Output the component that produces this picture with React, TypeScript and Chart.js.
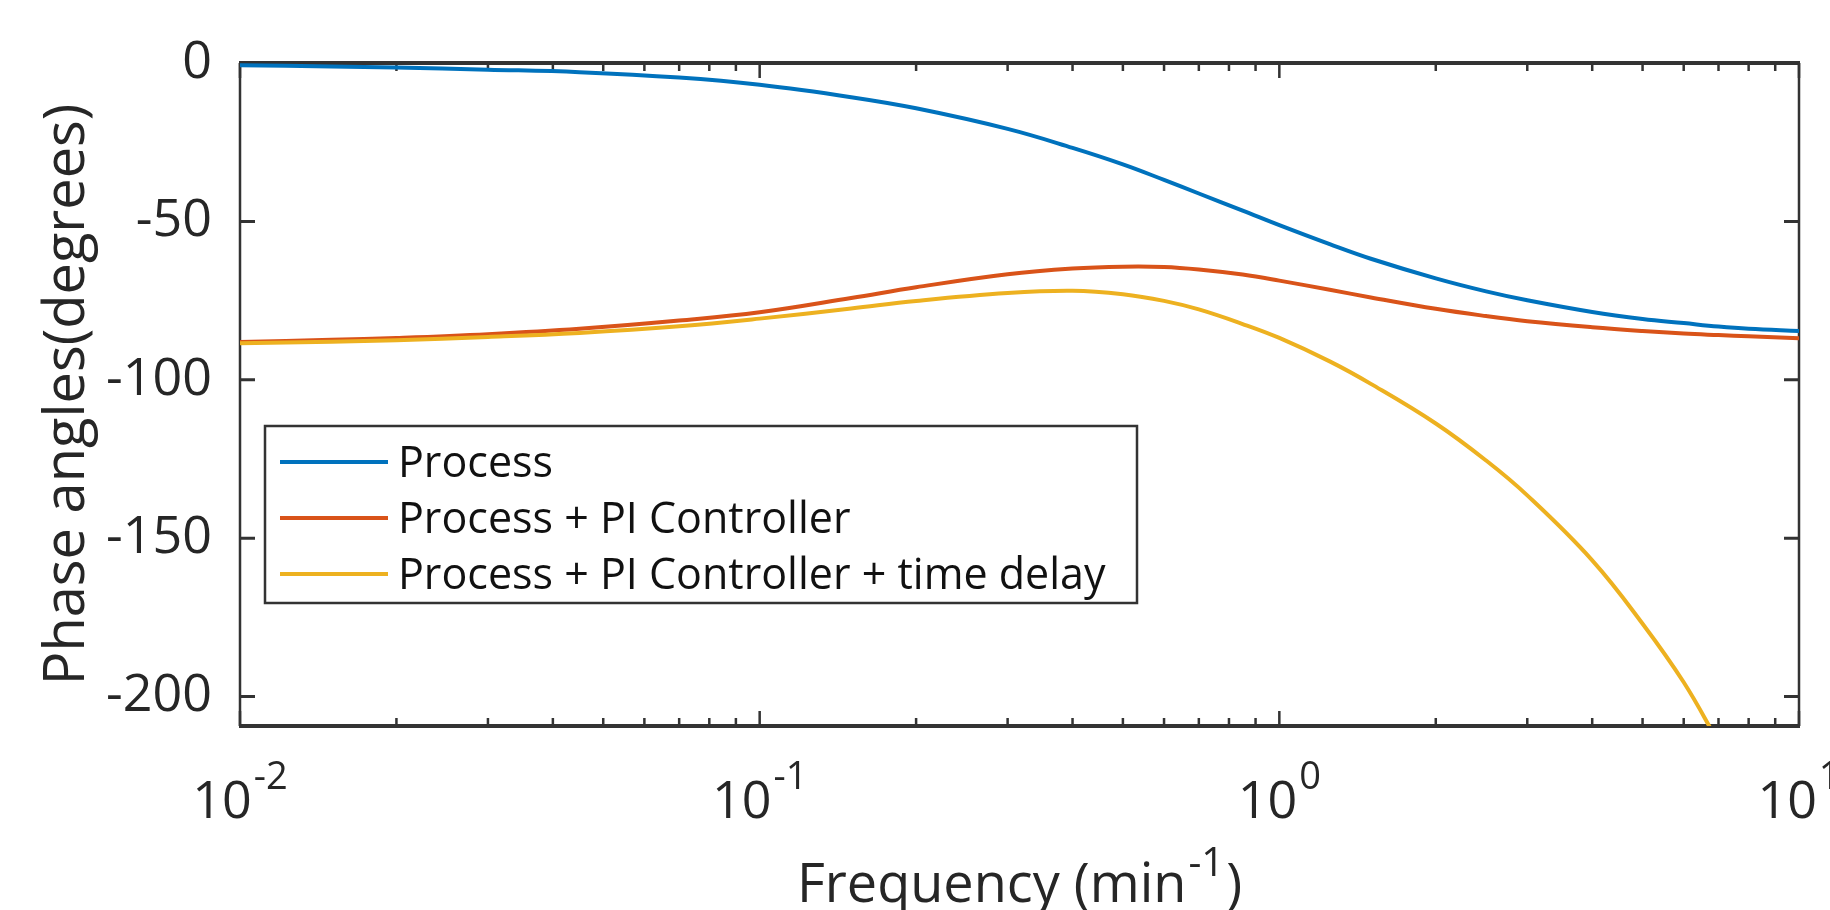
import React, { useEffect, useRef } from "react";
import { Chart, registerables } from "chart.js";

Chart.register(...registerables);

// ---- data ----
const frequency = [0.01, 0.015, 0.02, 0.03, 0.045, 0.07, 0.1, 0.15, 0.2, 0.3, 0.4, 0.5, 0.6, 0.7, 0.85, 1, 1.25, 1.5, 2, 2.5, 3, 4, 5, 6, 7, 8, 10];
const processPhase = [-0.7, -1.1, -1.4, -2.1, -2.9, -4.6, -6.9, -10.8, -14.3, -20.8, -26.8, -32.0, -36.9, -41.2, -46.6, -51.2, -57.2, -61.8, -68.0, -72.1, -74.9, -78.6, -80.8, -82.1, -83.2, -83.9, -84.6];
const piPhase = [-88.1, -87.4, -86.8, -85.6, -83.9, -81.3, -78.7, -74.2, -70.8, -66.7, -64.9, -64.3, -64.4, -65.2, -66.8, -68.7, -71.6, -74.0, -77.6, -79.9, -81.5, -83.4, -84.6, -85.4, -85.9, -86.3, -86.9];
const piDelayPhase = [-88.5, -88.0, -87.5, -86.5, -85.2, -83.1, -80.7, -77.5, -75.1, -72.6, -71.9, -73.0, -75.1, -77.8, -82.4, -86.8, -94.2, -101.3, -113.8, -125.5, -136.5, -157.0, -177.0, -195.5, -214.5, null, null];

const seriesLabels = ["Process", "Process + PI Controller", "Process + PI Controller + time delay"];
const seriesColors = ["#0072BD", "#D95319", "#EDB120"];

const yTickValues = [0, -50, -100, -150, -200];
const xMajorTicks = [0.01, 0.1, 1, 10];
const xTickExponents = ["-2", "-1", "0", "1"];
const xMinorMultipliers = [2, 3, 4, 5, 6, 7, 8, 9];
const xMin = 0.01;
const xMax = 10;
const yMin = -209.3;
const yMax = 0;

const yTitle = "Phase angles(degrees)";
const xTitleMain = "Frequency (min";
const xTitleSup = "-1";
const xTitleEnd = ")";

const AXIS = "#333333";
const TEXT = "#262626";
const FONT = '"Open Sans", sans-serif';

const framePlugin = {
  id: "matlabFrame",
  beforeDatasetsDraw(chart: any) {
    const { ctx, chartArea: a, scales } = chart;
    const xs = scales.x;
    const ys = scales.y;
    ctx.save();
    ctx.strokeStyle = AXIS;
    ctx.lineCap = "butt";
    ctx.lineWidth = 2.5;
    xMajorTicks.forEach((v, i) => {
      const px = xs.getPixelForValue(v);
      ctx.beginPath();
      ctx.moveTo(px, a.bottom);
      ctx.lineTo(px, a.bottom - 15);
      ctx.moveTo(px, a.top);
      ctx.lineTo(px, a.top + 15);
      ctx.stroke();
      if (i < xMajorTicks.length - 1) {
        xMinorMultipliers.forEach((m) => {
          const mx = xs.getPixelForValue(v * m);
          ctx.beginPath();
          ctx.moveTo(mx, a.bottom);
          ctx.lineTo(mx, a.bottom - 8);
          ctx.moveTo(mx, a.top);
          ctx.lineTo(mx, a.top + 8);
          ctx.stroke();
        });
      }
    });
    ctx.lineWidth = 3;
    yTickValues.forEach((v) => {
      const py = ys.getPixelForValue(v);
      ctx.beginPath();
      ctx.moveTo(a.left, py);
      ctx.lineTo(a.left + 15, py);
      ctx.moveTo(a.right, py);
      ctx.lineTo(a.right - 15, py);
      ctx.stroke();
    });
    ctx.lineWidth = 4;
    ctx.beginPath();
    ctx.moveTo(a.left - 1, a.top);
    ctx.lineTo(a.right + 1, a.top);
    ctx.moveTo(a.left - 1, a.bottom);
    ctx.lineTo(a.right + 1, a.bottom);
    ctx.stroke();
    ctx.lineWidth = 2.5;
    ctx.beginPath();
    ctx.moveTo(a.left, a.top);
    ctx.lineTo(a.left, a.bottom);
    ctx.moveTo(a.right, a.top);
    ctx.lineTo(a.right, a.bottom);
    ctx.stroke();
    ctx.restore();
  },
  afterDatasetsDraw(chart: any) {
    const { ctx } = chart;
    const bx = 265, by = 426, bw = 872, bh = 177;
    ctx.save();
    ctx.fillStyle = "#ffffff";
    ctx.fillRect(bx, by, bw, bh);
    ctx.strokeStyle = AXIS;
    ctx.lineWidth = 2.5;
    ctx.strokeRect(bx, by, bw, bh);
    ctx.font = `43px ${FONT}`;
    ctx.textAlign = "left";
    ctx.textBaseline = "alphabetic";
    chart.data.datasets.forEach((ds: any, i: number) => {
      const ry = 462 + i * 56;
      ctx.strokeStyle = ds.borderColor;
      ctx.lineWidth = 4;
      ctx.beginPath();
      ctx.moveTo(280, ry);
      ctx.lineTo(388, ry);
      ctx.stroke();
      ctx.fillStyle = "#111111";
      ctx.fillText(ds.label, 398, ry + 15);
    });
    ctx.restore();
  },
  afterDraw(chart: any) {
    const { ctx, chartArea: a, scales } = chart;
    const xs = scales.x;
    ctx.save();
    ctx.fillStyle = TEXT;
    ctx.textBaseline = "alphabetic";
    ctx.textAlign = "left";
    xMajorTicks.forEach((v, i) => {
      const px = xs.getPixelForValue(v);
      ctx.font = `52px ${FONT}`;
      const w10 = ctx.measureText("10").width;
      ctx.font = `38px ${FONT}`;
      const ws = ctx.measureText(xTickExponents[i]).width;
      const start = px - (w10 + ws + 2) / 2;
      ctx.font = `52px ${FONT}`;
      ctx.fillText("10", start, 818);
      ctx.font = `38px ${FONT}`;
      ctx.fillText(xTickExponents[i], start + w10 + 2, 789);
    });
    ctx.font = `54px ${FONT}`;
    const wm = ctx.measureText(xTitleMain).width;
    const we = ctx.measureText(xTitleEnd).width;
    ctx.font = `40px ${FONT}`;
    const wsup = ctx.measureText(xTitleSup).width;
    const cx = (a.left + a.right) / 2;
    const total = wm + wsup + we + 4;
    const x0 = cx - total / 2;
    ctx.font = `54px ${FONT}`;
    ctx.fillText(xTitleMain, x0, 902);
    ctx.font = `40px ${FONT}`;
    ctx.fillText(xTitleSup, x0 + wm + 2, 876);
    ctx.font = `54px ${FONT}`;
    ctx.fillText(xTitleEnd, x0 + wm + wsup + 4, 902);
    ctx.translate(84, (a.top + a.bottom) / 2);
    ctx.rotate(-Math.PI / 2);
    ctx.textAlign = "center";
    ctx.font = `56px ${FONT}`;
    ctx.fillText(yTitle, 0, 0);
    ctx.restore();
  },
};

export default function App() {
  const ref = useRef<HTMLCanvasElement>(null);
  useEffect(() => {
    const canvas = ref.current;
    if (!canvas) return;
    const seriesValues = [processPhase, piPhase, piDelayPhase];
    const datasets = seriesValues.map((arr, i) => ({
      label: seriesLabels[i],
      data: frequency.map((f, j) => ({ x: f, y: arr[j] })),
      borderColor: seriesColors[i],
      backgroundColor: seriesColors[i],
      borderWidth: 4,
      pointRadius: 0,
      tension: 0.4,
      fill: false,
      order: 3 - i,
      spanGaps: false,
    }));
    const chart = new Chart(canvas, {
      type: "line",
      data: { datasets } as any,
      options: {
        animation: false,
        responsive: false,
        devicePixelRatio: 1,
        layout: { padding: { left: 0, right: 31, top: 63, bottom: 184 } },
        plugins: { legend: { display: false }, tooltip: { enabled: false } },
        scales: {
          x: { type: "logarithmic", min: xMin, max: xMax, display: false },
          y: {
            type: "linear",
            min: yMin,
            max: yMax,
            afterFit: (s: any) => {
              s.width = 240;
            },
            afterBuildTicks: (s: any) => {
              s.ticks = yTickValues.map((v) => ({ value: v }));
            },
            grid: { display: false, drawTicks: false },
            border: { display: false },
            ticks: {
              padding: 28,
              color: TEXT,
              font: { family: FONT, size: 52 },
              callback: (v: any) => String(v),
            },
          },
        },
      } as any,
      plugins: [framePlugin],
    });
    return () => chart.destroy();
  }, []);
  return (
    <div style={{ position: "absolute", left: 0, top: 0, width: 1830, height: 910, background: "#ffffff" }}>
      <canvas ref={ref} width={1830} height={910} style={{ display: "block", width: 1830, height: 910 }} />
    </div>
  );
}
